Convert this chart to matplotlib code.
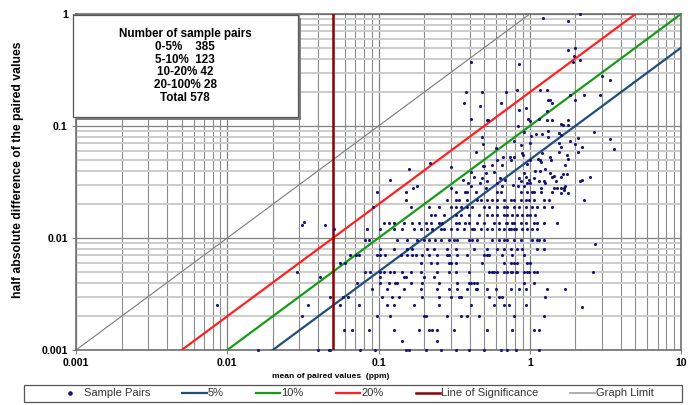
import matplotlib
matplotlib.use("Agg")
import matplotlib.pyplot as plt
from matplotlib.lines import Line2D
from matplotlib.patches import Rectangle
from matplotlib.ticker import FixedLocator, FixedFormatter, LogLocator, NullFormatter

plt.rcParams['font.family'] = ['Liberation Sans', 'DejaVu Sans']

# sample pairs: (mean of pair ppm, half abs difference)
upper_pairs = [
    (1.22, 0.92), (1.8, 0.86), (2.15, 0.99), (1.78, 0.48), (2.0, 0.5), (1.96, 0.42),
    (1.92, 0.37), (2.15, 0.39), (0.41, 0.37), (0.85, 0.36), (3.0, 0.28), (3.4, 0.26),
    (0.38, 0.2), (0.48, 0.2), (0.7, 0.2), (0.82, 0.21), (1.17, 0.21), (1.3, 0.21),
    (0.37, 0.16), (0.47, 0.15), (0.65, 0.16), (0.85, 0.14), (0.94, 0.145), (1.33, 0.17),
    (1.37, 0.17), (1.4, 0.16), (1.3, 0.135), (1.85, 0.19), (2.0, 0.17), (2.3, 0.19), (2.9, 0.19),
]
mid_pairs = [
    (0.41, 0.116), (0.52, 0.114), (0.53, 0.114), (0.83, 0.1), (0.98, 0.115), (1.0, 0.11),
    (1.16, 0.116), (1.3, 0.113), (1.4, 0.113), (0.48, 0.08), (0.49, 0.069), (0.44, 0.058),
    (0.6, 0.063), (0.79, 0.074), (0.89, 0.057), (0.9, 0.055), (0.92, 0.089), (1.0, 0.07),
    (1.1, 0.084), (1.2, 0.085), (1.33, 0.091), (1.32, 0.08), (1.02, 0.082), (0.87, 0.068),
    (1.2, 0.057), (0.3, 0.043), (0.22, 0.047), (0.67, 0.053), (0.74, 0.053), (0.79, 0.053),
    (0.49, 0.044), (0.5, 0.044), (0.61, 0.05), (1.13, 0.051), (1.17, 0.05), (1.18, 0.048),
    (1.36, 0.053), (1.39, 0.05), (0.66, 0.045), (0.75, 0.05), (0.96, 0.046), (1.01, 0.05),
    (0.56, 0.045), (1.17, 0.04), (1.27, 0.041), (1.36, 0.038), (1.45, 0.036), (1.25, 0.032),
    (1.27, 0.031), (1.45, 0.028), (1.09, 0.04), (1.4, 0.035), (1.5, 0.032), (1.07, 0.034),
    (1.15, 0.032), (1.01, 0.031), (1.18, 0.028), (0.92, 0.038), (0.95, 0.035), (0.99, 0.033),
    (0.96, 0.031), (0.85, 0.034), (0.87, 0.032), (0.77, 0.03), (0.83, 0.029), (0.91, 0.029),
    (0.64, 0.034), (0.69, 0.033), (0.61, 0.031), (0.66, 0.029), (0.58, 0.039), (0.51, 0.038),
    (0.41, 0.039), (0.43, 0.035), (0.48, 0.034), (0.52, 0.032), (0.47, 0.031), (0.51, 0.028),
    (0.36, 0.033), (0.39, 0.031), (0.41, 0.029), (0.3, 0.028), (0.16, 0.041), (0.12, 0.033),
    (0.17, 0.028), (0.18, 0.029),
]
right_pairs = [
    (1.6, 0.105), (1.65, 0.102), (1.8, 0.113), (1.8, 0.102), (1.55, 0.086), (1.6, 0.083),
    (1.55, 0.07), (1.6, 0.065), (1.55, 0.058), (1.85, 0.074), (2.0, 0.069), (2.1, 0.078),
    (2.1, 0.059), (2.2, 0.065), (2.65, 0.089), (3.4, 0.076), (3.6, 0.062), (1.75, 0.055),
    (1.8, 0.051), (1.7, 0.045), (1.6, 0.035), (1.67, 0.037), (1.75, 0.037), (2.15, 0.032),
    (2.2, 0.033), (2.5, 0.035), (1.52, 0.028), (1.6, 0.028), (1.68, 0.028), (1.7, 0.029),
    (1.62, 0.025), (1.68, 0.027), (1.8, 0.025), (2.3, 0.022), (2.7, 0.0089), (2.6, 0.005),
    (1.72, 0.0035), (2.2, 0.0024),
]
left_pairs = [
    (0.031, 0.013), (0.032, 0.014), (0.044, 0.013), (0.051, 0.012), (0.029, 0.005),
    (0.041, 0.0045), (0.048, 0.003), (0.034, 0.0025), (0.031, 0.002), (0.0085, 0.0025),
    (0.016, 0.001), (0.04, 0.001), (0.047, 0.001), (0.048, 0.001),
]

# lower part: pairs sit on rows of equal half difference
row_levels = [0.026, 0.022, 0.019, 0.016, 0.0135, 0.012, 0.0095, 0.008, 0.007, 0.006,
              0.005, 0.0045, 0.004, 0.0035, 0.003, 0.0025, 0.002, 0.0015, 0.0012, 0.001]
row_means = [
    [0.098, 0.151, 0.323, 0.376, 0.386, 0.438, 0.61, 0.641, 0.87, 0.96, 1.04, 1.07, 1.18, 1.41],
    [0.151, 0.284, 0.323, 0.34, 0.386, 0.45, 0.473, 0.523, 0.565, 0.61, 0.675, 0.746, 0.786,
     0.87, 0.94, 0.986, 1.07, 1.24, 1.34],
    [0.092, 0.163, 0.215, 0.25, 0.3, 0.323, 0.349, 0.386, 0.417, 0.497, 0.537, 0.61, 0.675,
     0.71, 0.786, 0.848, 0.94, 1.04, 1.12, 1.24, 1.41],
    [0.221, 0.238, 0.27, 0.323, 0.349, 0.396, 0.461, 0.523, 0.565, 0.61, 0.675, 0.71, 0.766,
     0.826, 0.89, 0.96, 1.01, 1.09],
    [0.108, 0.117, 0.126, 0.147, 0.167, 0.185, 0.205, 0.221, 0.25, 0.264, 0.323, 0.34, 0.376,
     0.396, 0.45, 0.497, 0.579, 0.625, 0.692, 0.71, 0.766, 0.786, 0.87, 0.94, 1.07, 1.12,
     1.24, 1.52],
    [0.084, 0.103, 0.126, 0.144, 0.171, 0.19, 0.21, 0.226, 0.257, 0.27, 0.3, 0.331, 0.366,
     0.417, 0.427, 0.473, 0.523, 0.565, 0.625, 0.675, 0.728, 0.746, 0.786, 0.806, 0.89, 0.96,
     1.04, 1.12],
    [0.082, 0.086, 0.133, 0.155, 0.18, 0.2, 0.215, 0.238, 0.257, 0.292, 0.315, 0.331, 0.396,
     0.417, 0.45, 0.565, 0.625, 0.675, 0.71, 0.786, 0.87, 1.04, 1.12, 1.15, 1.24],
    [0.103, 0.126, 0.155, 0.167, 0.21, 0.232, 0.284, 0.323, 0.427, 0.523, 0.61, 0.675, 0.746,
     0.826, 0.89, 1.12, 1.24],
    [0.065, 0.0705, 0.074, 0.098, 0.103, 0.111, 0.14, 0.155, 0.167, 0.176, 0.195, 0.215, 0.244,
     0.284, 0.292, 0.331, 0.386, 0.497, 0.523, 0.537, 0.658, 0.766, 0.914],
    [0.056, 0.0605, 0.19, 0.221, 0.244, 0.292, 0.3, 0.323, 0.485, 0.675, 0.746, 0.786, 0.826,
     0.96, 1.01],
    [0.082, 0.0885, 0.103, 0.108, 0.12, 0.126, 0.144, 0.163, 0.19, 0.244, 0.292, 0.323, 0.396,
     0.537, 0.565, 0.579, 0.61, 0.675, 0.71, 0.746, 0.766, 0.806, 0.826, 0.914, 0.96, 0.986,
     1.07, 1.12],
    [0.103, 0.147, 0.151, 0.2, 0.232],
    [0.072, 0.103, 0.117, 0.129, 0.133, 0.163, 0.195, 0.25, 0.331, 0.396, 0.406, 0.427, 0.45,
     0.914, 1.07],
    [0.091, 0.114, 0.147, 0.19, 0.244, 0.292, 0.331, 0.386, 0.438, 0.45, 0.523, 0.594, 0.746,
     0.848, 0.94, 1.3],
    [0.058, 0.063, 0.106, 0.123, 0.136, 0.195, 0.25, 0.3, 0.34, 0.349, 0.537, 0.625, 0.658, 1.27],
    [0.056, 0.074, 0.114, 0.126, 0.171, 0.25, 0.406, 0.579, 0.675, 0.728, 0.94],
    [0.098, 0.12, 0.2, 0.205, 0.284, 0.349, 0.386, 0.461, 0.786, 1.24],
    [0.059, 0.067, 0.086, 0.126, 0.185, 0.215, 0.226, 0.244, 0.315, 0.523, 0.766, 1.07, 1.15],
    [0.144, 0.244],
    [0.076, 0.0955, 0.151, 0.159, 0.205, 0.257, 0.323, 0.396, 0.497, 0.641, 0.71, 0.806, 1.15],
]

pct_levels = [0.05, 0.10, 0.20]
pct_labels = ['5%', '10%', '20%']
pct_colors = ['#1f4e79', '#169b16', '#ff2020']
significance_x = 0.05
line_x = [0.001, 10]

x_ticks = [0.001, 0.01, 0.1, 1, 10]
x_ticklabels = ['0.001', '0.01', '0.1', '1', '10']
y_ticks = [0.001, 0.01, 0.1, 1]
y_ticklabels = ['0.001', '0.01', '0.1', '1']

summary_lines = ['Number of sample pairs', '0-5%    385', '5-10%  123',
                 '10-20% 42', '20-100% 28', 'Total 578']

W, H = 695, 405
def fx(px):
    return px / W
def fy(py):
    return 1 - py / H

point_color = '#14147a'
fig = plt.figure(figsize=(W / 100, H / 100), dpi=100)
ax = fig.add_axes([fx(76), fy(350), (681 - 76) / W, (350 - 14) / H])
ax.set_xscale('log')
ax.set_yscale('log')
ax.set_xlim(0.001, 10)
ax.set_ylim(0.001, 1)

# gridlines
ax.xaxis.set_major_locator(FixedLocator(x_ticks))
ax.xaxis.set_major_formatter(FixedFormatter(x_ticklabels))
ax.yaxis.set_major_locator(FixedLocator(y_ticks))
ax.yaxis.set_major_formatter(FixedFormatter(y_ticklabels))
ax.xaxis.set_minor_locator(LogLocator(base=10, subs=range(2, 10)))
ax.yaxis.set_minor_locator(LogLocator(base=10, subs=range(2, 10)))
ax.xaxis.set_minor_formatter(NullFormatter())
ax.yaxis.set_minor_formatter(NullFormatter())
ax.grid(which='major', color='#808080', lw=0.9)
ax.grid(which='minor', axis='x', color='#8c8c8c', lw=0.8)
ax.grid(which='minor', axis='y', color='#cccccc', lw=1.4)
ax.set_axisbelow(True)
ax.tick_params(which='major', length=3, color='#808080', labelsize=7.6, pad=3)
ax.tick_params(which='minor', length=0)
for lab in ax.get_xticklabels() + ax.get_yticklabels():
    lab.set_fontweight('bold')
for sp in ax.spines.values():
    sp.set_color('#707070')
    sp.set_linewidth(1.2)

# reference lines
ax.plot(line_x, line_x, color='#7a7a7a', lw=0.8, zorder=2)
for k, c in zip(pct_levels, pct_colors):
    ax.plot(line_x, [k * v for v in line_x], color=c, lw=1.6, zorder=3)
ax.axvline(significance_x, color='#8b0000', lw=1.8, zorder=3)

# sample pairs
xs = [p[0] for p in upper_pairs + mid_pairs + right_pairs + left_pairs]
ys = [p[1] for p in upper_pairs + mid_pairs + right_pairs + left_pairs]
for lvl, means in zip(row_levels, row_means):
    xs += means
    ys += [lvl] * len(means)
ax.scatter(xs, ys, s=5, color=point_color, linewidths=0, zorder=4, clip_on=False)

fig.text(fx(18), fy(170), 'half absolute difference of the paired values', rotation=90,
         ha='center', va='center', fontsize=8.8, fontweight='bold')
fig.text(fx(331), fy(377), 'mean of paired values  (ppm)', ha='center', va='center',
         fontsize=6, fontweight='bold')

# summary box with shadow
fig.patches.append(Rectangle((fx(76), fy(120)), 225 / W, 102 / H, transform=fig.transFigure,
                             facecolor='#7f7f7f', edgecolor='none', zorder=5))
fig.patches.append(Rectangle((fx(73), fy(117)), 225 / W, 102 / H, transform=fig.transFigure,
                             facecolor='white', edgecolor='#555555', lw=0.9, zorder=6))
for i, line in enumerate(summary_lines):
    fig.text(fx(185), fy(34 + 12.8 * i), line, ha='center', va='center', fontsize=8.4,
             fontweight='bold', zorder=7)

# legend
handles = [Line2D([], [], marker='o', ls='none', color=point_color, ms=2.3)]
handles += [Line2D([], [], color=c, lw=1.6) for c in pct_colors]
handles += [Line2D([], [], color='#8b0000', lw=1.8), Line2D([], [], color='#a0a0a0', lw=1.2)]
labels = ['Sample Pairs'] + pct_labels + ['Line of Significance', 'Graph Limit']
leg = fig.legend(handles, labels, loc='center', ncol=6, mode='expand', frameon=False,
                 bbox_to_anchor=(fx(56), fy(402), (656 - 56) / W, 17 / H),
                 fontsize=8, handlelength=2.2, handletextpad=0.1, borderaxespad=0,
                 borderpad=0.2)
for t in leg.get_texts():
    t.set_color('#333333')
fig.patches.append(Rectangle((fx(24), fy(402)), 658 / W, 17 / H, transform=fig.transFigure,
                             facecolor='none', edgecolor='#555555', lw=0.9))

fig.savefig('out.png', dpi=100)
